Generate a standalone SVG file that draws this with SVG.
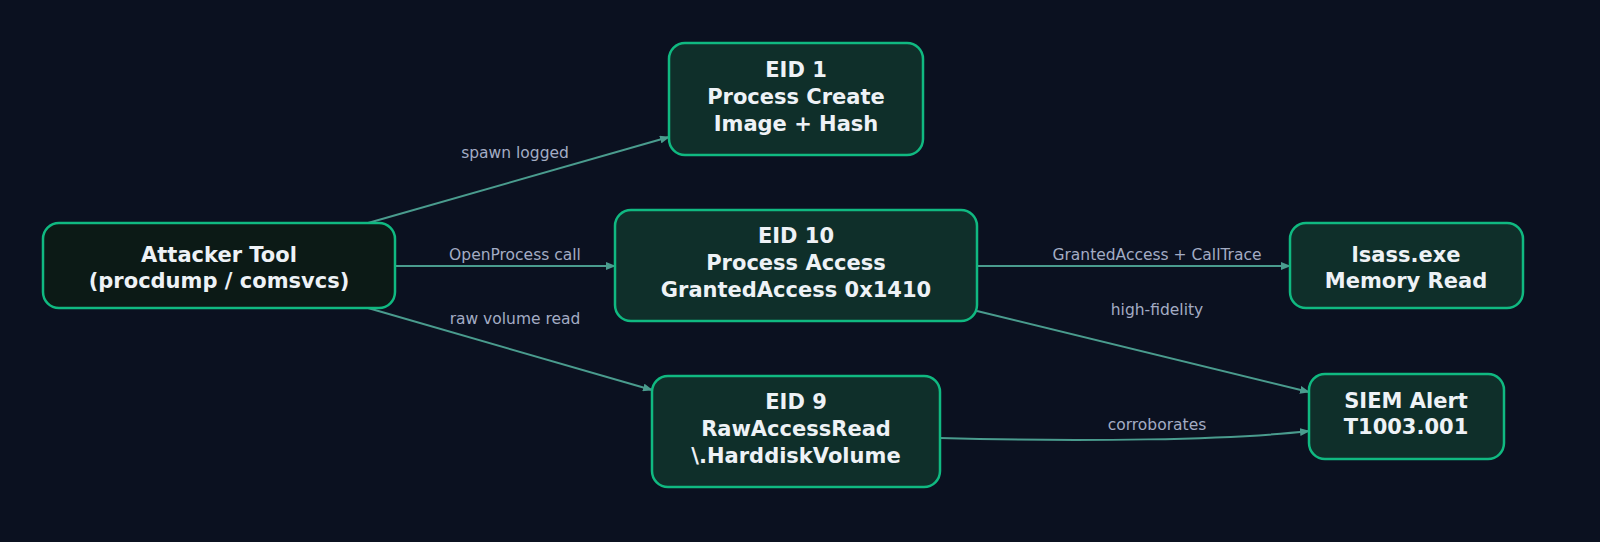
<svg xmlns="http://www.w3.org/2000/svg" width="1600" height="542" viewBox="0 0 1600 542">
<style>
.n rect{fill:#0f2f2a;stroke:#10b981;stroke-width:2.5}
.n text{font-family:"DejaVu Sans",sans-serif;font-weight:bold;font-size:21px;fill:#eef2f6;text-anchor:middle}
.e path{fill:none;stroke:#4a9c8e;stroke-width:2}
.l{font-family:"DejaVu Sans",sans-serif;font-size:15.5px;fill:#a3acc4;text-anchor:middle}
</style>
<defs><marker id="a" markerWidth="10" markerHeight="8" refX="9" refY="4" orient="auto" markerUnits="userSpaceOnUse"><path d="M0,0L10,4L0,8z" fill="#4a9c8e"/></marker></defs>
<rect width="1600" height="542" fill="#0b1120"/>
<g class="e">
<path d="M368,223L669,137" marker-end="url(#a)"/>
<path d="M395,266L615,266" marker-end="url(#a)"/>
<path d="M368,308L652,390" marker-end="url(#a)"/>
<path d="M977,266L1290,266" marker-end="url(#a)"/>
<path d="M977,311L1309,392" marker-end="url(#a)"/>
<path d="M940,438C1080,442 1230,440 1309,431" marker-end="url(#a)"/>
<text class="l" x="515" y="158">spawn logged</text>
<text class="l" x="515" y="260">OpenProcess call</text>
<text class="l" x="515" y="324">raw volume read</text>
<text class="l" x="1157" y="260">GrantedAccess + CallTrace</text>
<text class="l" x="1157" y="315">high-fidelity</text>
<text class="l" x="1157" y="430">corroborates</text>
</g>
<g id="attacker" class="n"><rect x="43" y="223" width="352" height="85" rx="16" style="fill:#0c1a16"/><text x="219" y="262">Attacker Tool</text><text x="219" y="288">(procdump / comsvcs)</text></g>
<g id="eid1" class="n"><rect x="669" y="43" width="254" height="112" rx="16"/><text x="796" y="77">EID 1</text><text x="796" y="104">Process Create</text><text x="796" y="131">Image + Hash</text></g>
<g id="eid10" class="n"><rect x="615" y="210" width="362" height="111" rx="16"/><text x="796" y="243">EID 10</text><text x="796" y="270">Process Access</text><text x="796" y="297">GrantedAccess 0x1410</text></g>
<g id="eid9" class="n"><rect x="652" y="376" width="288" height="111" rx="16"/><text x="796" y="409">EID 9</text><text x="796" y="436">RawAccessRead</text><text x="796" y="463">\.HarddiskVolume</text></g>
<g id="lsass" class="n"><rect x="1290" y="223" width="233" height="85" rx="16"/><text x="1406" y="262">lsass.exe</text><text x="1406" y="288">Memory Read</text></g>
<g id="siem" class="n"><rect x="1309" y="374" width="195" height="85" rx="16"/><text x="1406" y="408">SIEM Alert</text><text x="1406" y="434">T1003.001</text></g>
</svg>
